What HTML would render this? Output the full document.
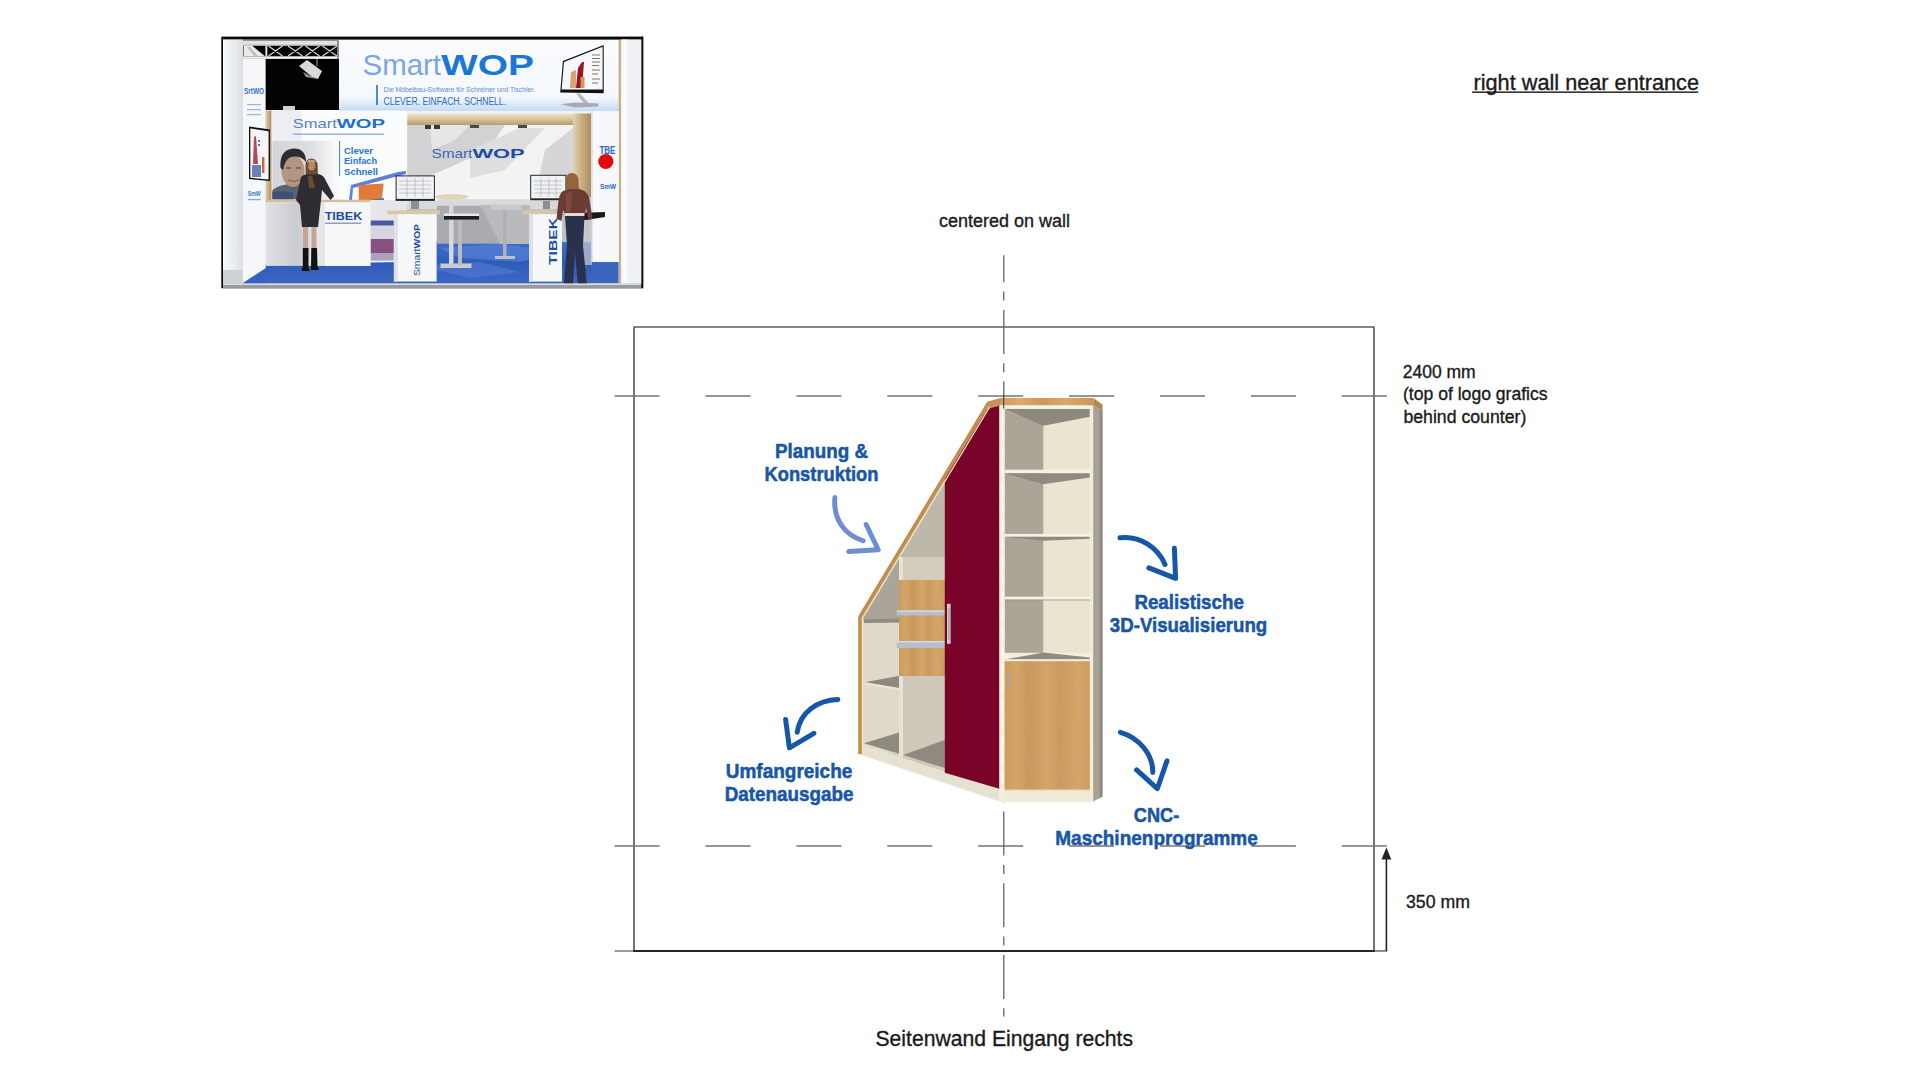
<!DOCTYPE html>
<html><head><meta charset="utf-8"><style>
html,body{margin:0;padding:0;background:#fff;width:1920px;height:1080px;overflow:hidden}
svg{display:block}
text{font-family:"Liberation Sans",sans-serif}
</style></head><body>
<svg width="1920" height="1080" viewBox="0 0 1920 1080">
<defs>
<linearGradient id="wood" x1="0" y1="0" x2="1" y2="0">
<stop offset="0" stop-color="#cf9a5c"/><stop offset="0.2" stop-color="#dcaa6e"/><stop offset="0.45" stop-color="#cd975a"/><stop offset="0.7" stop-color="#daa86b"/><stop offset="1" stop-color="#cb9658"/>
</linearGradient>
<linearGradient id="woodv" x1="0" y1="0" x2="1" y2="0">
<stop offset="0" stop-color="#cc9a5d"/><stop offset="0.15" stop-color="#d5a567"/><stop offset="0.3" stop-color="#c9975a"/><stop offset="0.5" stop-color="#d6a668"/><stop offset="0.65" stop-color="#cb995c"/><stop offset="0.85" stop-color="#d6a669"/><stop offset="1" stop-color="#cc9a5d"/>
</linearGradient>
<filter id="grain" x="0" y="0" width="1" height="1">
<feTurbulence type="fractalNoise" baseFrequency="0.25 0.04" numOctaves="2" seed="3" result="n"/>
<feColorMatrix in="n" type="matrix" values="0 0 0 0 0.55  0 0 0 0 0.36  0 0 0 0 0.17  0 0 0 -1.1 0.75" result="c"/>
<feComposite in="c" in2="SourceGraphic" operator="in"/>
</filter>
</defs>
<rect width="1920" height="1080" fill="#fff"/>

<!-- THUMBNAIL -->
<g id="thumb">
<defs>
<linearGradient id="tBanner" x1="0" y1="0" x2="0" y2="1">
<stop offset="0" stop-color="#fbfcfe"/><stop offset="0.8" stop-color="#f4f8fd"/><stop offset="1" stop-color="#c5daf3"/>
</linearGradient>
<linearGradient id="tWall" x1="0" y1="0" x2="1" y2="0">
<stop offset="0" stop-color="#f6f8fa"/><stop offset="0.6" stop-color="#e8ecf0"/><stop offset="1" stop-color="#d9dee4"/>
</linearGradient>
<linearGradient id="tBack" x1="0" y1="0" x2="1" y2="1">
<stop offset="0" stop-color="#c9cbce"/><stop offset="0.35" stop-color="#eeeeef"/><stop offset="0.6" stop-color="#d4d5d7"/><stop offset="1" stop-color="#f1f1f2"/>
</linearGradient>
<linearGradient id="tBeam" x1="0" y1="0" x2="0" y2="1">
<stop offset="0" stop-color="#efe3c9"/><stop offset="0.5" stop-color="#d9c39b"/><stop offset="1" stop-color="#b99b6c"/>
</linearGradient>
<linearGradient id="tPillar" x1="0" y1="0" x2="1" y2="0">
<stop offset="0" stop-color="#e2d2b2"/><stop offset="0.5" stop-color="#c8ad80"/><stop offset="1" stop-color="#a98d62"/>
</linearGradient>
<linearGradient id="tCarpet" x1="0" y1="0" x2="0" y2="1">
<stop offset="0" stop-color="#3f6cc6"/><stop offset="0.5" stop-color="#2f5cb8"/><stop offset="1" stop-color="#3a68c2"/>
</linearGradient>
<linearGradient id="tCounter" x1="0" y1="0" x2="1" y2="0">
<stop offset="0" stop-color="#dfe1e4"/><stop offset="0.3" stop-color="#c9ccd0"/><stop offset="0.5" stop-color="#e6e8ea"/><stop offset="0.8" stop-color="#d0d3d7"/><stop offset="1" stop-color="#eef0f2"/>
</linearGradient>
<linearGradient id="tFloorEdge" x1="0" y1="0" x2="0" y2="1">
<stop offset="0" stop-color="#e9eaeb"/><stop offset="0.5" stop-color="#b5b6b8"/><stop offset="1" stop-color="#d0d1d2"/>
</linearGradient>
</defs>
<!-- frame -->
<rect x="221.3" y="36.6" width="421.9" height="251.6" fill="#0a0a0a"/>
<rect x="223" y="39.6" width="418.5" height="244" fill="#f2f4f7"/>
<!-- left white wall -->
<rect x="223" y="39.6" width="20" height="244" fill="url(#tWall)"/>
<!-- truss -->
<rect x="243" y="40.6" width="95.5" height="18.6" fill="#050505"/>
<rect x="243" y="41" width="95.5" height="4.6" fill="#e2e2e2"/>
<rect x="243" y="44.6" width="95.5" height="1" fill="#b8b8b8"/>
<rect x="243" y="56.3" width="95.5" height="2.6" fill="#f2f2f2"/>
<rect x="243" y="58.9" width="22.4" height="0.8" fill="#bdbdbd"/>
<path d="M268.5,46 L282.5,56 M268.5,56 L282.5,46 M288,46 L302.5,56 M288,56 L302.5,46 M305.5,46 L319.5,56 M305.5,56 L319.5,46 M322.5,46 L337,56 M322.5,56 L337,46" stroke="#dedede" stroke-width="1.1" fill="none"/>
<polygon points="243.5,45.6 252,45.6 265,56.3 243.5,56.3" fill="#e9e9e9"/>
<polygon points="247,47 250,47 258,56.3 254.5,56.3" fill="#bcbcbc"/>
<rect x="265.4" y="45.6" width="1.9" height="10.7" fill="#e6e6e6"/>
<rect x="337" y="40.6" width="1.6" height="18.6" fill="#8a8a8a"/>
<!-- black area -->
<rect x="265.4" y="59" width="73.6" height="51" fill="#020202"/>
<!-- projector -->
<polygon points="299,66 307,60 322,71 318,79 312,77" fill="#d9d9d9"/>
<polygon points="303,72 312,77 318,79 306,77" fill="#9d9d9d"/>
<line x1="317" y1="59" x2="317" y2="66" stroke="#cfcfcf" stroke-width="0.8"/>
<rect x="283" y="106" width="12" height="6" fill="#cfcfcf"/>
<!-- left panel -->
<rect x="243" y="59" width="22.4" height="224" fill="#f5f7f9"/>
<text x="244" y="94" font-size="9" font-weight="bold" fill="#2f74c8" transform="rotate(0)" textLength="20" lengthAdjust="spacingAndGlyphs">SrtWO</text>
<rect x="247" y="104" width="14" height="1.2" fill="#9bb6d8"/>
<rect x="247" y="109" width="14" height="1.2" fill="#9bb6d8"/>
<rect x="247" y="114" width="14" height="1.2" fill="#9bb6d8"/>
<text x="247.7" y="196" font-size="7" font-weight="bold" fill="#3a7ccc" textLength="13" lengthAdjust="spacingAndGlyphs">SmW</text>
<rect x="247.7" y="199" width="13" height="1.2" fill="#7ea6d8"/>
<!-- banner -->
<rect x="339" y="40" width="279.6" height="71.2" fill="url(#tBanner)"/>
<text x="362.5" y="75" font-size="29.5" fill="#7aa6e4" textLength="78.5" lengthAdjust="spacingAndGlyphs">Smart</text>
<text x="441" y="75" font-size="29.5" font-weight="bold" fill="#1a78d4" textLength="93" lengthAdjust="spacingAndGlyphs">WOP</text>
<rect x="376.2" y="85" width="1.6" height="20" fill="#2a6cc0"/>
<text x="383.5" y="92" font-size="6.5" fill="#5a8ed2" textLength="151.5" lengthAdjust="spacingAndGlyphs">Die Möbelbau-Software für Schreiner und Tischler.</text>
<text x="383.5" y="105" font-size="10" fill="#2a6cc0" textLength="122.5" lengthAdjust="spacingAndGlyphs">CLEVER. EINFACH. SCHNELL.</text>
<!-- banner monitor -->
<polygon points="562.9,60.9 603.7,44.9 603.7,93.2 560.2,92.4" fill="#111"/>
<polygon points="564,62 602.6,46.8 602.6,89.6 561.6,89.4" fill="#f5f7fa"/>
<polygon points="576,88 578,68 582,62 584,62 582,88" fill="#9c1228"/>
<polygon points="570,88 571,72 576,70 576,88" fill="#d8a472"/>
<rect x="580.5" y="77" width="4" height="11" fill="#d59a5a"/>
<path d="M592,55 h8 M592,58.5 h8 M592,62 h8 M592,65.5 h7 M592,70 h8 M592,74 h6 M592,79 h8 M592,83 h6" stroke="#8a7060" stroke-width="1"/>
<polygon points="576,93.5 580,93.5 588.5,103 585,104.4" fill="#b4b6b9"/>
<polygon points="560.2,104.2 575,102.5 598.7,103.5 598,106.5 575,107.5" fill="#a9abae"/>
<!-- right pillar and wall -->
<rect x="618.6" y="40" width="2.8" height="243.6" fill="#c8b08a"/>
<rect x="621.4" y="39.6" width="20.1" height="244" fill="#eef1f4"/>
<rect x="621.4" y="39.6" width="6" height="244" fill="#f9fafb"/>
<!-- back wall -->
<rect x="406.5" y="111" width="168" height="135" fill="#f3f3f4"/>
<polygon points="407,125 505,125 488,150 455,165 425,178 407,175" fill="#d2d2d5"/>
<polygon points="430,125 470,125 455,140 432,150" fill="#e6e6e8"/>
<polygon points="470,150 520,128 545,128 505,170 470,178" fill="#dedee0"/>
<polygon points="545,150 573,128 573,195 535,195" fill="#d6d6d9"/>
<rect x="406.5" y="193" width="168" height="8" fill="#f6f6f7"/>
<rect x="406.5" y="201" width="168" height="43" fill="#bfc1c4"/>
<rect x="406.5" y="201" width="168" height="8" fill="#d8d9db"/>
<polygon points="470,210 500,205 520,230 480,240" fill="#a9abaf" opacity="0.7"/>
<text x="431.4" y="158" font-size="13.5" fill="#3d66b2" textLength="41" lengthAdjust="spacingAndGlyphs">Smart</text>
<text x="472.4" y="158" font-size="13.5" font-weight="bold" fill="#1c4d9e" textLength="52.3" lengthAdjust="spacingAndGlyphs">WOP</text>
<!-- beam -->
<rect x="404" y="113.5" width="187" height="11.5" fill="url(#tBeam)"/>
<rect x="425" y="125" width="6" height="4" fill="#3a3a3a"/>
<rect x="434" y="125" width="6" height="4" fill="#3a3a3a"/>
<rect x="470" y="125" width="9" height="3" fill="#4a4a4a"/>
<rect x="518" y="125" width="9" height="3" fill="#4a4a4a"/>
<!-- wood pillar right -->
<rect x="573" y="113.5" width="18" height="84" fill="url(#tPillar)"/>
<rect x="574" y="197" width="17" height="48" fill="#c4c6c9"/>
<path d="M578,200 V262 M583,200 V262 M587,200 V262" stroke="#9a9ca0" stroke-width="0.8"/>
<!-- Tibek panel -->
<rect x="591" y="111.2" width="27.6" height="172" fill="#f7f8fa"/>
<rect x="591" y="111.2" width="2" height="172" fill="#e0e3e7"/>
<text x="599.4" y="154" font-size="10.5" font-weight="bold" fill="#2c64c0" textLength="16" lengthAdjust="spacingAndGlyphs">TBE</text>
<circle cx="605.8" cy="161.5" r="7.6" fill="#e20a0a"/>
<text x="600" y="189" font-size="8" font-weight="bold" fill="#2c64c0" textLength="16" lengthAdjust="spacingAndGlyphs">SmW</text>
<!-- counter wall -->
<rect x="265.4" y="110.6" width="6.3" height="92" fill="url(#tPillar)"/>
<rect x="271.7" y="110.6" width="135.5" height="92" fill="#fbfcfd"/>
<rect x="271.7" y="110.6" width="30" height="30" fill="#eceef1"/>
<text x="292.8" y="128.3" font-size="13" fill="#4f80cc" textLength="44" lengthAdjust="spacingAndGlyphs">Smart</text>
<text x="336.8" y="128.3" font-size="13" font-weight="bold" fill="#1c70cc" textLength="48.2" lengthAdjust="spacingAndGlyphs">WOP</text>
<rect x="293" y="133.5" width="91" height="1.4" fill="#8aaedc"/>
<!-- photo -->
<defs><linearGradient id="tPhoto" x1="0" y1="0" x2="1" y2="0"><stop offset="0" stop-color="#d3d4d8"/><stop offset="0.55" stop-color="#dcdde0"/><stop offset="1" stop-color="#fbfbfc"/></linearGradient></defs>
<rect x="272.4" y="140.7" width="66" height="59" fill="url(#tPhoto)"/>
<path d="M272.4,199.3 L272.4,190 Q280,184 292,184 L304,184 Q314,188 318,199.3 Z" fill="#5b6170"/>
<path d="M272.4,199.3 L272.4,192 Q282,190 293,193 L293,199.3 Z" fill="#3f4f7a"/>
<ellipse cx="293" cy="171" rx="11.5" ry="16" fill="#b49482"/>
<path d="M280.5,168 Q279,150 293,148.5 Q306,148 306,162 Q300,155 291,157 Q285,159 283,170 Z" fill="#2e2b34"/>
<path d="M286,168 h5 M296,168 h5" stroke="#4e3a36" stroke-width="1.2"/>
<path d="M288,180 Q293,183 299,180" stroke="#7a5a50" stroke-width="1" fill="none"/>
<!-- left TV -->
<polygon points="249,126.5 269.9,129.5 269.9,181 249,179" fill="#0b0b0b"/>
<polygon points="250.3,128.5 268.6,131.2 268.6,179.5 250.3,177.8" fill="#f3f5f8"/>
<polygon points="253,164 254,137 256,136 258,164" fill="#b5485a"/><rect x="252" y="165" width="9" height="12" fill="#6d7fb8"/>
<rect x="262" y="157" width="2.4" height="16" fill="#c76b3a"/><rect x="258" y="140" width="2" height="2" fill="#4a77b8"/><rect x="258" y="144" width="2" height="2" fill="#4a77b8"/>
<rect x="339.2" y="141" width="0.9" height="35" fill="#2a6cc0"/>
<text x="344" y="153.5" font-size="8.2" font-weight="bold" fill="#1f74cc" textLength="29" lengthAdjust="spacingAndGlyphs">Clever</text>
<text x="344" y="164.3" font-size="8.2" font-weight="bold" fill="#1f74cc" textLength="33" lengthAdjust="spacingAndGlyphs">Einfach</text>
<text x="344" y="175" font-size="8.2" font-weight="bold" fill="#1f74cc" textLength="34" lengthAdjust="spacingAndGlyphs">Schnell</text>
<!-- blue line/orange chair -->
<polygon points="349,200 351,185 398,172 406,171 406,174 353,188 352,200" fill="#5d7fd6"/>
<polygon points="358.5,185 383.7,183.5 381,206 359,205" fill="#e07b3c"/>
<polygon points="370,200 384,198 382,216.6 370,218" fill="#3b7f95"/>
<!-- back area floor + purple -->
<rect x="370" y="200" width="36.5" height="46" fill="#e6e7ea"/>
<rect x="370.4" y="220.6" width="23.4" height="40" fill="#a8a4bc"/>
<rect x="370.4" y="220.6" width="23.4" height="5" fill="#4e56a6"/>
<rect x="370.4" y="225.6" width="23.4" height="13.5" fill="#d6d6de"/>
<rect x="370.4" y="239" width="23.4" height="14" fill="#8a4f82"/>
<!-- carpet -->
<polygon points="242.5,283.4 265.7,268.3 265.7,264 406.5,262 406.5,242 591,242 591,283.4" fill="url(#tCarpet)"/>
<polygon points="440,248 500,244 560,252 520,262 460,258" fill="#5a86da" opacity="0.6"/>
<polygon points="420,266 480,262 520,272 470,278" fill="#5582d8" opacity="0.5"/>
<rect x="591" y="262" width="27.6" height="21" fill="#3a66c0"/>
<!-- back area furniture -->
<rect x="437" y="199.7" width="93" height="44" fill="#a9abaf"/>
<rect x="437" y="199.7" width="93" height="6" fill="#d9dadc"/>
<polygon points="480,205 530,205 530,244 500,244" fill="#b8babe"/>
<ellipse cx="452" cy="196.8" rx="16.5" ry="2.8" fill="#e2d3b3"/>
<rect x="449" y="200.5" width="4.5" height="64" fill="#d5d7da"/>
<rect x="440.5" y="263.5" width="31" height="4.5" fill="#c9cbce"/>
<rect x="444" y="213.5" width="35" height="3" fill="#e8e8ea"/>
<rect x="444" y="216" width="35" height="3.6" fill="#1d1d1f"/>
<rect x="458" y="220" width="4" height="45" fill="#b9bbbe"/>
<rect x="491" y="204.5" width="30" height="5.5" fill="#c8cacd"/>
<rect x="503" y="210" width="3.5" height="48" fill="#aeb0b3"/>
<rect x="495" y="256" width="20" height="3" fill="#bfc1c4"/>
<!-- counter -->
<rect x="265.7" y="199.7" width="104.7" height="2.6" fill="#d6bf96"/>
<rect x="265.7" y="202.3" width="104.7" height="63.6" fill="url(#tCounter)"/>
<rect x="324.7" y="202.3" width="45.7" height="63.6" fill="#f5f6f8"/>
<text x="324.7" y="220.2" font-size="11.5" font-weight="bold" fill="#1c4c9c" textLength="37.5" lengthAdjust="spacingAndGlyphs">TIBEK</text>
<rect x="325" y="222.5" width="36" height="1.5" fill="#8f9fbc"/>
<!-- left panel bottom / floor wedge -->
<polygon points="242.5,283.4 265.7,268.3 265.7,283.4" fill="#3562bf"/>
<!-- woman 1 -->
<path d="M305.5,165 Q305.5,158.5 311.5,158.5 Q317.7,159 317.7,166 L318,187.6 L306,187.6 Z" fill="#6e4a30"/>
<path d="M307,161 Q311,158.5 316,161 L315,163 Q311,161 308,163 Z" fill="#c9a46a"/>
<ellipse cx="311.6" cy="166" rx="3.6" ry="4.6" fill="#b08a6c"/>
<path d="M301,177 Q305,173 310,175 L318,174 Q324,175 326,181 L334,196 L330.5,200 L322,190 L321,200 L318,227 L302,227 L300,205 L296,200 Z" fill="#2c2c31"/>
<path d="M308,176 L312,176 L315,188 L309,188 Z" fill="#6e4a30"/>
<rect x="303" y="227" width="5" height="21" fill="#c7a596"/>
<rect x="311.5" y="227" width="5" height="21" fill="#c7a596"/>
<path d="M302.8,248 L308.5,248 L308.5,268 L310,271 L301.5,271 L302.8,266 Z" fill="#121212"/>
<path d="M311.3,248 L317,248 L317.5,266 L319,270 L311,270 Z" fill="#121212"/>
<!-- table 1 (SmartWOP) -->
<rect x="387.3" y="210.5" width="52.7" height="3.7" fill="#d9c7a5"/>
<rect x="393.9" y="214.2" width="42.7" height="67.3" fill="#f7f8fa"/>
<rect x="393.9" y="214.2" width="4" height="67.3" fill="#dfe2e6"/>
<text transform="translate(419.5,276) rotate(-90)" font-size="8.5" fill="#1d4f9f" textLength="52" lengthAdjust="spacingAndGlyphs"><tspan>Smart</tspan><tspan font-weight="bold">WOP</tspan></text>
<!-- monitor 1 -->
<rect x="395.6" y="175.4" width="39.3" height="25.5" fill="#262626"/>
<rect x="396.6" y="176.4" width="37.3" height="22.5" fill="#f0f2f4"/>
<path d="M399,181 H431 M399,185 H431 M399,189 H431 M399,193 H431 M407,178 V197 M415,178 V197 M423,178 V197" stroke="#9a9ea4" stroke-width="0.5"/>
<rect x="411" y="201" width="8" height="8" fill="#8c8e91"/>
<!-- table 2 (TIBEK) -->
<rect x="523" y="210.6" width="31.8" height="3.6" fill="#d9c7a5"/>
<rect x="529" y="214.2" width="33" height="67.4" fill="#f7f8fa"/>
<rect x="529" y="214.2" width="4" height="67.4" fill="#dde0e4"/>
<text transform="translate(556.6,265) rotate(-90)" font-size="10" font-weight="bold" fill="#1d4f9f" textLength="47" lengthAdjust="spacingAndGlyphs">TIBEK</text>
<!-- monitor 2 -->
<rect x="530.2" y="174.8" width="36.2" height="25.5" fill="#262626"/>
<rect x="531.2" y="175.8" width="34.2" height="22.5" fill="#f0f2f4"/>
<path d="M534,181 H562 M534,185 H562 M534,189 H562 M534,193 H562 M541,178 V197 M549,178 V197 M556,178 V197" stroke="#9a9ea4" stroke-width="0.5"/>
<rect x="543" y="201" width="7" height="8" fill="#8c8e91"/>
<!-- black desk -->
<polygon points="578,213 605,212 605,217 586,220 578,219" fill="#1a1a1c"/>
<rect x="577" y="220" width="15" height="45" fill="#c9cbce" opacity="0.7"/>
<!-- woman 2 -->
<path d="M566,180 Q566,173 572,173 Q578.5,173.5 578.5,181 L579,193 L566,193 Z" fill="#94643a"/>
<path d="M563,191 Q559,193 558,205 L556.5,219 L561.5,221 L563,210 L565,214 L585,214 L586,208 L588.5,220 L592.5,219 L589,197 Q586,190 579,189 L570,189 Z" fill="#6b3c33"/>
<path d="M566,193 L572,191 L571,212 L566,212 Z" fill="#8a5448" opacity="0.6"/>
<rect x="565" y="213" width="19.5" height="3" fill="#e6dbcf"/>
<path d="M565,216 L584.5,216 L583,245 L587,287 L578,287 L575,252 L573,287 L563.5,287 L567,245 Z" fill="#29314d"/>
<!-- bottom strip -->
<rect x="223" y="283.4" width="418.5" height="2.3" fill="#d6dce2"/>
<rect x="223" y="285.6" width="418.5" height="2.8" fill="#9a9a9a"/>
<rect x="223" y="270" width="19.5" height="13.4" fill="#cfd1d3"/>
<rect x="641.5" y="36.6" width="1.7" height="251.6" fill="#0a0a0a"/>
</g>


<!-- Labels -->
<g fill="#1a1a1a" stroke="#1a1a1a" stroke-width="0.35">
<text x="1473.5" y="89.7" font-size="21.5" textLength="225.5" lengthAdjust="spacingAndGlyphs">right wall near entrance</text>
<rect x="1472.5" y="91.7" width="225.5" height="1.1"/>
<text x="939" y="227.3" font-size="18" textLength="131" lengthAdjust="spacingAndGlyphs">centered on wall</text>
<text x="1402.7" y="377.7" font-size="18" textLength="73" lengthAdjust="spacingAndGlyphs">2400 mm</text>
<text x="1403" y="400.4" font-size="18" textLength="144.6" lengthAdjust="spacingAndGlyphs">(top of logo grafics</text>
<text x="1403.4" y="422.9" font-size="18" textLength="122.9" lengthAdjust="spacingAndGlyphs">behind counter)</text>
<text x="1406" y="907.8" font-size="18.5" textLength="64" lengthAdjust="spacingAndGlyphs">350 mm</text>
<text x="875.5" y="1045.7" font-size="21.5" textLength="257.5" lengthAdjust="spacingAndGlyphs">Seitenwand Eingang rechts</text>
</g>

<!-- drawing lines -->
<g fill="none">
<path d="M634,950.9 V327 H1374 V950.9" stroke-width="1.7" stroke="#5e5e5e"/>
<line x1="614.6" y1="395.9" x2="1387.5" y2="395.9" stroke-width="1.5" stroke-dasharray="45 45.9" stroke="#747474"/>
<line x1="614.6" y1="846" x2="1387.5" y2="846" stroke-width="1.5" stroke-dasharray="45 45.9" stroke="#747474"/>
<line x1="614.6" y1="950.9" x2="1387.5" y2="950.9" stroke-width="1.5" stroke-dasharray="45 45.9" stroke="#7a7a7a"/>
<line x1="1374" y1="950.9" x2="1387.5" y2="950.9" stroke-width="1.2" stroke="#8a8a8a"/>
<line x1="633.2" y1="950.9" x2="1374.8" y2="950.9" stroke-width="2" stroke="#262626"/>
<line x1="1003.8" y1="255.3" x2="1003.8" y2="1016.5" stroke-width="1.25" stroke-dasharray="44 9.3 9 9.36" stroke-dashoffset="17" stroke="#5e5e5e"/>
<line x1="1386.4" y1="856" x2="1386.4" y2="951" stroke-width="1.6" stroke="#222"/>
</g>
<polygon points="1386.4,847.5 1381.5,859.5 1391.3,859.5" fill="#222"/>

<!-- CABINET -->
<g id="cab">
<!-- left section base interior -->
<polygon points="861.7,617 989,405 1000,405 1000,792 861.7,746" fill="#d4cebe"/>
<!-- middle compartment upper gray (under slope) -->
<polygon points="899,555 944.8,478 944.8,557 899,557" fill="#bdb8aa"/>
<polygon points="903,557 944.8,557 944.8,580 899,580 899,560" fill="#d2ccbc"/>
<!-- left compartment ceiling -->
<polygon points="862,617 899,555 899,620 862,620" fill="#aaa598"/>
<polygon points="864,619.5 899,618.5 899,622.5 864,623" fill="#8f8b80"/>
<!-- left compartment walls -->
<rect x="862" y="623" width="37" height="130" fill="#dfd9c8"/>
<!-- left shelf -->
<polygon points="864.8,682.3 899.7,675.7 899.7,688.3" fill="#8e8a7f"/>
<polygon points="864.8,682.3 899.7,688.3 899.7,690 864.8,684.5" fill="#ece7d6"/>
<!-- left floor -->
<polygon points="863.9,743.3 900,732.2 900,754" fill="#8e8a7f"/>
<!-- middle lower cream -->
<rect x="903" y="675" width="42" height="92" fill="#cec8b8"/>
<polygon points="903.3,755 944.8,740 944.8,768" fill="#8e8a7f"/>
<!-- divider -->
<rect x="899" y="557" width="4" height="200" fill="#e7e2d3"/>
<!-- drawers -->
<rect x="899" y="580" width="46" height="96" fill="url(#woodv)"/>
<rect x="899" y="580" width="46" height="96" fill="#000" filter="url(#grain)" opacity="0.5"/>
<rect x="896.7" y="610.4" width="48" height="5" fill="#b5c0cc"/>
<rect x="896.7" y="610.4" width="48" height="1.2" fill="#d7dee6"/>
<rect x="896.7" y="641" width="48" height="7" fill="#b5c0cc"/>
<rect x="896.7" y="641" width="48" height="1.4" fill="#d7dee6"/>
<!-- plinth left -->
<polygon points="861.7,744.4 999.5,789.5 999.5,801.5 858.5,754" fill="#e6e1d1"/>
<!-- red door -->
<polygon points="944.8,478 987.5,408.7 999.5,405.4 999.5,788.7 944.8,772.7" fill="#7a0329"/>
<!-- door handle -->
<rect x="947" y="603.8" width="3.6" height="40" fill="#c9cdd2"/>
<rect x="948.3" y="608" width="1.2" height="32" fill="#9aa0a8"/>
<!-- wood slant strip -->
<polyline points="860,754 860,616.8 988.2,403.6 1001,400" fill="none" stroke="#c38b4c" stroke-width="3.6" stroke-linejoin="miter"/>
<polyline points="862.6,754 862.6,618 990,406.5" fill="none" stroke="#f0e6cc" stroke-width="1.3"/>
<!-- right column -->
<rect x="999.5" y="405" width="94" height="397" fill="#f4eedb"/>
<!-- compartments backs -->
<rect x="1004.6" y="408.8" width="39" height="244" fill="#aba597"/>
<rect x="1043.5" y="408.8" width="46.5" height="244" fill="#ebe4d0"/>
<!-- ceiling -->
<polygon points="1005,408.8 1089.8,408.8 1089.8,416.7 1043.4,425.8" fill="#8c887d"/>
<!-- shelf 1 -->
<rect x="1004.6" y="469.7" width="85.4" height="3.6" fill="#f6f1e0"/>
<polygon points="1004.6,473.2 1089.8,473.2 1089.8,477.5 1042.8,484.3" fill="#8f8b80"/>
<!-- shelf 2 -->
<rect x="1004.6" y="533.9" width="85.4" height="3" fill="#f6f1e0"/>
<polygon points="1004.6,536.8 1089.8,536.8 1089.8,538.7 1043,540.7" fill="#8f8b80"/>
<!-- shelf 3 -->
<rect x="1004.6" y="596.7" width="85.4" height="3" fill="#f6f1e0"/>
<rect x="1004.6" y="599.6" width="85.4" height="0.8" fill="#9a968a"/>
<!-- bottom floor -->
<polygon points="1004.6,659.5 1043.5,652.5 1089.8,657.5 1089.8,659.5" fill="#8f8b80"/>
<rect x="1002" y="659.3" width="89" height="2.2" fill="#f3eedc"/>
<!-- wood door -->
<rect x="1002.3" y="661.2" width="88.5" height="128.6" fill="url(#woodv)"/>
<rect x="1002.3" y="661.2" width="88.5" height="128.6" fill="#000" filter="url(#grain)" opacity="0.5"/>
<rect x="1002.3" y="661.2" width="1.2" height="128.6" fill="#f1e6cc"/>
<rect x="1007.7" y="671.6" width="2" height="15" fill="#a7a7a7"/>
<!-- right plinth -->
<rect x="999.5" y="789.8" width="92" height="11.7" fill="#f0ead7"/>
<rect x="999.5" y="789.8" width="92" height="1" fill="#e1dac4"/>
<!-- right cream strip -->
<rect x="1089.8" y="405.4" width="3.4" height="396" fill="#f2ecd8"/>
<!-- right side panel -->
<polygon points="1093.2,405.4 1102.5,410.4 1102.5,796.5 1093.2,801.5" fill="#a6a296"/>
<polygon points="1099.5,408.8 1102.5,410.4 1102.5,796.5 1099.5,798.2" fill="#8f8b80"/>
<!-- top board -->
<polygon points="1000.8,397.9 1093.3,397.9 1093.3,405.4 1000.8,405.4" fill="url(#wood)"/>
<polygon points="1093.3,397.9 1102.5,404.6 1102.5,410.4 1093.3,405.4" fill="#b98449"/>
<polygon points="987.5,401.7 1000.8,397.9 1000.8,405.4 989.5,408" fill="#c99155"/>
<rect x="1000.8" y="405.4" width="89" height="3.4" fill="#f7f2e1"/>
<!-- left cream strip with dashes -->
<rect x="999.7" y="405.4" width="4.9" height="396" fill="#f5efdc"/>
<line x1="1002.2" y1="412" x2="1002.2" y2="790" stroke="#fffdf7" stroke-width="1.4" stroke-dasharray="10 8"/>
<!-- centre line over board -->
<line x1="1003.6" y1="396" x2="1003.6" y2="408.5" stroke="#4a4a4a" stroke-width="1.2"/>
</g>


<!-- blue labels -->
<g id="blue" font-weight="bold" fill="#1856a6" stroke="#1856a6" stroke-width="0.55" stroke-linejoin="round">
<text x="775" y="457.9" font-size="21" textLength="93" lengthAdjust="spacingAndGlyphs">Planung &amp;</text>
<text x="764.5" y="480.6" font-size="21" textLength="114" lengthAdjust="spacingAndGlyphs">Konstruktion</text>
<text x="1134.4" y="609.4" font-size="21" textLength="109.5" lengthAdjust="spacingAndGlyphs">Realistische</text>
<text x="1109.8" y="631.7" font-size="21" textLength="157.5" lengthAdjust="spacingAndGlyphs">3D-Visualisierung</text>
<text x="725.8" y="778.3" font-size="21" textLength="126.5" lengthAdjust="spacingAndGlyphs">Umfangreiche</text>
<text x="724.7" y="800.6" font-size="21" textLength="128.7" lengthAdjust="spacingAndGlyphs">Datenausgabe</text>
<text x="1133.8" y="821.8" font-size="21" textLength="45.5" lengthAdjust="spacingAndGlyphs">CNC-</text>
<text x="1055.3" y="844.5" font-size="21" textLength="202.5" lengthAdjust="spacingAndGlyphs">Maschinenprogramme</text>
<g fill="none" stroke-width="5" stroke-linecap="round" stroke-linejoin="round">
<path d="M834.9,497.4 C833,520 845,535 863.2,540.8 M866.2,524.5 L878.2,549.8 L848.7,551.6" stroke="#6c8fd2"/>
<path d="M1120,537.8 C1140,535 1158,548 1165,564.4 M1174.4,548.3 L1175.6,578.3 L1148.9,567.8" stroke="#1556a8"/>
<path d="M837.8,699.4 C818,700 800,712 797.2,732.2 M785.6,719.4 L789.4,747.8 L813.9,733.3" stroke="#1556a8"/>
<path d="M1120.4,732.3 C1140,738 1153,755 1152.8,772.5 M1167,760.8 L1157.3,788.7 L1136.6,769.9" stroke="#1556a8"/>
</g>
</g>

</svg>
</body></html>
